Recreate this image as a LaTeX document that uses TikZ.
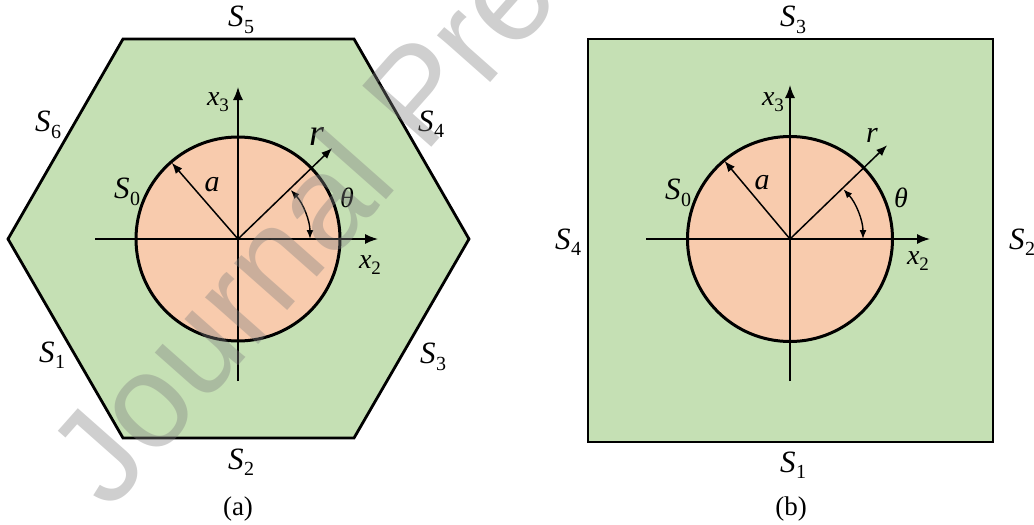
\documentclass[tikz,border=0pt]{standalone}
\usepackage{fontspec}
\setmainfont{Liberation Serif}
\newfontfamily\wmfont{Liberation Sans}
\usetikzlibrary{arrows.meta,calc}
\definecolor{fillgreen}{HTML}{C5E0B4}
\definecolor{fillorange}{HTML}{F8CBAD}
\newcommand{\Slab}[1]{{\fontsize{31}{31}\selectfont\itshape S}\kern0.5pt\raisebox{-6.5pt}{\fontsize{20}{20}\selectfont #1}}
\newcommand{\Xlab}[1]{{\fontsize{28}{28}\selectfont\itshape x}\raisebox{-5.5pt}{\fontsize{19}{19}\selectfont #1}}
\begin{document}
\begin{tikzpicture}[x=1pt,y=-1pt,
  outline/.style={draw=black,line width=2.8pt,line join=miter,fill=fillgreen},
  disk/.style={draw=black,line width=3pt,fill=fillorange},
  axis/.style={line width=1.5pt,-{Latex[length=13pt,width=10pt]}},
  radline/.style={line width=1.5pt,-{Latex[length=11pt,width=8.5pt]}},
  anglearrow/.style={line width=1.4pt,{Latex[length=9pt,width=7pt]}-{Latex[length=9pt,width=7pt]}},
  lab/.style={inner sep=0pt},
  wm/.style={inner sep=0pt,text=gray,text opacity=0.38,font=\wmfont\fontsize{134}{134}\selectfont}]
\useasboundingbox (0,0) rectangle (1034,525);

% ---------- (a) hexagon ----------
\coordinate (h1) at (123,39);
\coordinate (h2) at (354,39);
\coordinate (h3) at (469,239);
\coordinate (h4) at (354,438);
\coordinate (h5) at (123,438);
\coordinate (h6) at (8,239);
\draw[outline] (h1) -- (h2) -- (h3) -- (h4) -- (h5) -- (h6) -- cycle;
\coordinate (oa) at (238,239);
\draw[disk] (oa) circle[radius=102];
\coordinate (axa0) at (95,239);
\coordinate (axa1) at (378,239);
\coordinate (aya0) at (238,381);
\coordinate (aya1) at (238,87);
\draw[axis] (axa0) -- (axa1);
\draw[axis] (aya0) -- (aya1);
\coordinate (ra) at ($(oa)+(-131:101)$);
\coordinate (rra) at ($(oa)+(-44:131)$);
\draw[radline] (oa) -- (ra);
\draw[radline] (oa) -- (rra);
\coordinate (tha) at ($(oa)+(0:72)$);
\draw[anglearrow] (tha) arc[start angle=0,end angle=-43,radius=72];

\node[lab] (s5) at (241,20) {\Slab{5}};
\node[lab] (s6) at (48,125) {\Slab{6}};
\node[lab] (s4) at (431,124) {\Slab{4}};
\node[lab] (s1) at (52,355) {\Slab{1}};
\node[lab] (s3) at (433,357) {\Slab{3}};
\node[lab] (s2) at (241,462) {\Slab{2}};
\node[lab] (s0a) at (127,192) {\Slab{0}};
\node[lab] (x3a) at (218,102) {\Xlab{3}};
\node[lab] (x2a) at (370,265) {\Xlab{2}};
\node[lab,font=\fontsize{30}{30}\selectfont\itshape] (la) at (212,185) {a};
\node[lab,font=\fontsize{38}{38}\selectfont\itshape] (lra) at (317,137) {r};
\node[lab,font=\fontsize{28}{28}\selectfont\itshape] (ltha) at (347,198) {θ};
\node[lab,font=\fontsize{27}{27}\selectfont] (capa) at (238,509) {(a)};

% ---------- (b) square ----------
\coordinate (q1) at (588,39);
\coordinate (q2) at (993,442);
\draw[outline] (q1) rectangle (q2);
\coordinate (ob) at (790,239);
\draw[disk] (ob) circle[radius=102.5];
\coordinate (axb0) at (646,239);
\coordinate (axb1) at (930,239);
\coordinate (ayb0) at (790,381);
\coordinate (ayb1) at (790,85);
\draw[axis] (axb0) -- (axb1);
\draw[axis] (ayb0) -- (ayb1);
\coordinate (rb) at ($(ob)+(-130:102)$);
\coordinate (rrb) at ($(ob)+(-44:135)$);
\draw[radline] (ob) -- (rb);
\draw[radline] (ob) -- (rrb);
\coordinate (thb) at ($(ob)+(0:73)$);
\draw[anglearrow] (thb) arc[start angle=0,end angle=-43,radius=73];

\node[lab] (t3) at (793,20) {\Slab{3}};
\node[lab] (t1) at (793,465) {\Slab{1}};
\node[lab] (t4) at (568,242) {\Slab{4}};
\node[lab] (t2) at (1022,242) {\Slab{2}};
\node[lab] (s0b) at (678,193) {\Slab{0}};
\node[lab] (x3b) at (773,102) {\Xlab{3}};
\node[lab] (x2b) at (918,261) {\Xlab{2}};
\node[lab,font=\fontsize{30}{30}\selectfont\itshape] (lb) at (762,183) {a};
\node[lab,font=\fontsize{30}{30}\selectfont\itshape] (lrb) at (872,135) {r};
\node[lab,font=\fontsize{28}{28}\selectfont\itshape] (lthb) at (901,198) {θ};
\node[lab,font=\fontsize{27}{27}\selectfont] (capb) at (791,509) {(b)};

% ---------- watermark ----------
\node[wm,rotate=48.5,anchor=base west] (wmark) at (109,513) {Journal Pre};
\end{tikzpicture}
\end{document}
